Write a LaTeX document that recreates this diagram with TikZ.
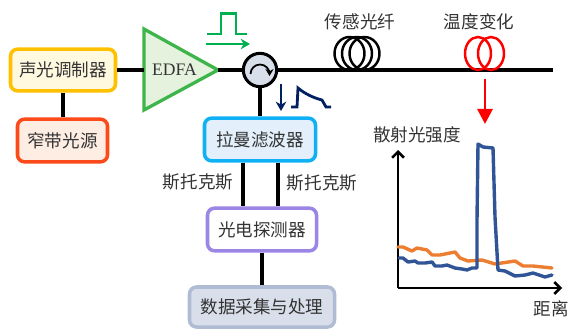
\documentclass[tikz,border=0pt]{standalone}
\usepackage{fontspec}
\setmainfont{Noto Sans CJK SC}
\newfontfamily\latinfont{Liberation Serif}
\usetikzlibrary{arrows.meta}
\definecolor{txtgray}{HTML}{333333}
\definecolor{aomline}{HTML}{FFC000}
\definecolor{aomfill}{HTML}{FFF9E0}
\definecolor{laserline}{HTML}{FC4A1A}
\definecolor{laserfill}{HTML}{FDEDE3}
\definecolor{ramanline}{HTML}{10B0F5}
\definecolor{ramanfill}{HTML}{E3F0FB}
\definecolor{detline}{HTML}{9B85E5}
\definecolor{daqline}{HTML}{B0BCD4}
\definecolor{daqfill}{HTML}{D9DFEA}
\definecolor{edfaline}{HTML}{3DB54A}
\definecolor{edfafill}{HTML}{E5F2DD}
\definecolor{pulsegreen}{HTML}{00B050}
\definecolor{pulseblue}{HTML}{002060}
\definecolor{traceorange}{HTML}{ED7D31}
\definecolor{traceblue}{HTML}{2F5597}
\tikzset{
  lbl/.style={text=txtgray,font=\fontsize{15}{16}\selectfont,inner sep=0pt},
  box/.style={lbl,draw=#1line,fill=#1fill,line width=3pt,rounded corners=6pt},
  wire/.style={line width=2.9pt,black},
  coil/.style={line width=2.1pt},
  trace/.style={line width=2.9pt,line join=round,line cap=round}
}
\colorlet{detfill}{white}
\begin{document}
\begin{tikzpicture}[x=0.03cm,y=-0.03cm]
\useasboundingbox (0,0) rectangle (568,329);

%  boxes:

\node [box=aom,minimum width=3.15cm,minimum height=1.25cm] (aom) at (63,70) {声光调制器};
\node [box=laser,minimum width=2.7cm,minimum height=1.28cm] (laser) at (62.5,140.5) {窄带光源};
\node [box=raman,minimum width=3.33cm,minimum height=1.28cm] (raman) at (260,139.5) {拉曼滤波器};
\node [box=det,minimum width=3.27cm,minimum height=1.28cm] (det) at (262,229.5) {光电探测器};
\node [box=daq,minimum width=4.35cm,minimum height=1.2cm] (daq) at (262,307) {数据采集与处理};

%  EDFA and circulator:

\coordinate (edfain) at (144,70);
\coordinate (edfaout) at (218,70);
\draw [line width=2.8pt,draw=edfaline,fill=edfafill,line join=miter] (144,29)--(edfaout)--(144,110)--cycle;
\node [lbl,font=\latinfont\fontsize{15}{16}\selectfont] (edfa) at (174.5,70) {EDFA};
\node [circle,draw,line width=2.6pt,fill=daqfill,minimum size=1.0cm,inner sep=0pt] (circ) at (260,70) {};
\draw [line width=1.5pt] (250.5,74) arc (180:360:9.5);
\draw [-{Stealth[length=6pt,width=7pt]},line width=1.5pt] (269.5,70)--(269.5,76);

\coordinate (fiberend) at (553,70);
\draw [wire] (aom.east)--(edfain);
\draw [wire] (aom.south)--(laser.north -| aom.south);
\draw [wire] (edfaout)--(circ.west);
\draw [wire] (circ.east)--(fiberend);
\draw [wire] (circ.south)--(circ.south |- raman.north);
\draw [wire] (raman.south -| 243,0)--(det.north -| 243,0);
\draw [wire] (raman.south -| 278,0)--(det.north -| 278,0);
\draw [wire] (det.south)--(daq.north);

%  coils:

\draw [coil] (349.5,53.5) ellipse (15 and 16.5);
\draw [coil] (357,53.5) ellipse (15 and 16.5);
\draw [coil] (364.5,53.5) ellipse (15 and 16.5);
\draw [coil,red] (478,53.5) ellipse (13 and 16.5);
\draw [coil,red] (491,53.5) ellipse (13 and 16.5);

\node [lbl] (fiberlbl) at (360,22) {传感光纤};
\node [lbl] (templbl) at (479,22) {温度变化};
\node [lbl] (stokesl) at (198,182) {斯托克斯};
\node [lbl] (stokesr) at (322,183) {斯托克斯};
\node [lbl] (ylbl) at (417,135) {散射光强度};
\node [lbl] (xlbl) at (551,309) {距离};

%  pulses:

\draw [line width=2.4pt,draw=pulsegreen] (207,34)--(221,34)--(221,13.5)--(236,13.5)--(236,34)--(247,34);
\draw [-{Stealth[length=8pt,width=9pt]},line width=2.4pt,draw=pulsegreen,fill=pulsegreen] (206,44)--(250,44);
\draw [-{Stealth[length=8pt,width=9pt]},line width=2.4pt,draw=pulseblue,fill=pulseblue] (281,84)--(281,111);
\draw [line width=2.4pt,draw=pulseblue] (291,107)--(297,107)--(298,88) .. controls (305,94) and (314,98) .. (322,100)--(326,107)--(331,107);

\draw [-{Triangle[length=13pt,width=13pt]},line width=2.4pt,red] (485,79)--(485,124);

%  plot:

\draw [-{Straight Barb[length=5pt,width=10pt]}, line width=2.2pt] (398,288)--(398,150);
\draw [-{Straight Barb[length=5pt,width=10pt]}, line width=2.2pt] (398,288)--(562,288);

\draw [trace,draw=traceorange] (398,247)--(403,247)--(412,251)--(417,248)--(427,250)--(432,255)--(440,255)--(455,252)--(460,258)--(468,261)--(482,260)--(495,264)--(515,261)--(523,266)--(533,266)--(552,268);
\draw [trace,draw=traceblue] (399,258)--(403,258)--(408,262)--(415,261)--(418,263)--(425,263)--(432,262)--(435,266)--(442,266)--(447,265)--(455,268)--(462,269)--(467,270)--(472,268)--(477,268)--(477,220)--(478,144)--(483,147)--(493,148)--(495,217)--(498,270)--(505,271)--(515,276)--(525,275)--(533,273)--(545,277)--(552,275);

\end{tikzpicture}
\end{document}
